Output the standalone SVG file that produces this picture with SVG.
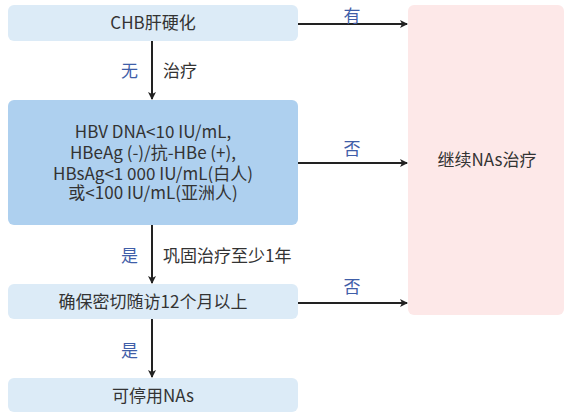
<svg xmlns="http://www.w3.org/2000/svg" width="564" height="412" viewBox="0 0 564 412">
<style>
text{font-family:"Noto Sans CJK SC","Noto Sans",sans-serif;font-size:17px;fill:#333;}
.c{text-anchor:middle;}
.lb{fill:#3f5ea8;}
.lt{fill:#dcebf7;}
.dk{fill:#aed0ef;}
.pk{fill:#fde8e8;}
.ln{stroke:#222;stroke-width:2;fill:none;marker-end:url(#ah);}
</style>
<defs>
<marker id="ah" markerWidth="8" markerHeight="8" refX="7" refY="4" orient="auto" markerUnits="userSpaceOnUse">
<path d="M0,0 L8,4 L0,8 L2,4 Z" fill="#222"/>
</marker>
</defs>
<g id="n1"><rect class="lt" x="8" y="5" width="290" height="36" rx="6"/><text class="c" x="153" y="29">CHB肝硬化</text></g>
<g id="n2"><rect class="dk" x="8" y="100" width="290" height="125" rx="6"/>
<text class="c" x="153" y="137.5">HBV DNA&lt;10 IU/mL,</text>
<text class="c" x="153" y="159">HBeAg (-)/抗-HBe (+),</text>
<text class="c" x="153" y="179.5">HBsAg&lt;1 000 IU/mL(白人)</text>
<text class="c" x="153" y="199">或&lt;100 IU/mL(亚洲人)</text></g>
<g id="n3"><rect class="lt" x="8" y="284" width="290" height="35" rx="6"/><text class="c" x="153" y="308">确保密切随访12个月以上</text></g>
<g id="n4"><rect class="lt" x="8" y="378" width="290" height="34" rx="6"/><text class="c" x="153" y="402">可停用NAs</text></g>
<g id="n5"><rect class="pk" x="408" y="5" width="156" height="310" rx="6"/><text class="c" x="487" y="165.5">继续NAs治疗</text></g>
<g id="edges">
<path class="ln" d="M298,24 H407"/>
<text class="c lb" x="352" y="21.5">有</text>
<path class="ln" d="M152,41 V99"/>
<text class="lb" x="121" y="77">无</text>
<text x="163" y="77">治疗</text>
<path class="ln" d="M298,163 H407"/>
<text class="c lb" x="352" y="154.5">否</text>
<path class="ln" d="M152,225 V283"/>
<text class="lb" x="121" y="262">是</text>
<text x="163" y="262">巩固治疗至少1年</text>
<path class="ln" d="M298,303 H407"/>
<text class="c lb" x="352" y="292.5">否</text>
<path class="ln" d="M152,319 V377"/>
<text class="lb" x="121" y="356.5">是</text>
</g>
</svg>
